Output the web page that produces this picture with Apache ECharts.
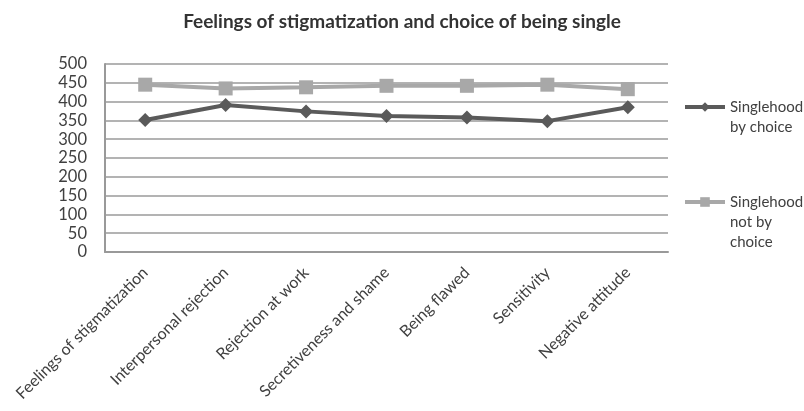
<!DOCTYPE html>
<html>
<head>
<meta charset="utf-8">
<script src="https://cdn.jsdelivr.net/npm/echarts@6/dist/echarts.min.js"></script>
<style>
  html, body { margin: 0; padding: 0; background: #fff; }
  #chart { width: 804px; height: 411px; }
</style>
</head>
<body>
<div id="chart"></div>
<script>
// Stigmatization dimensions on the category axis
const categories = [
  'Feelings of stigmatization',
  'Interpersonal rejection',
  'Rejection at work',
  'Secretiveness and shame',
  'Being flawed',
  'Sensitivity',
  'Negative attitude'
];

// Scores by group
const byChoice = [351, 391, 374, 362, 358, 348, 385];
const notByChoice = [445, 435, 438, 442, 442, 445, 433];

const yTicks = { min: 0, max: 500, interval: 50 };

const FONT = 'Lato';
const TEXT = '#404040';

const chart = echarts.init(document.getElementById('chart'), null, { renderer: 'canvas' });

// Legend labels wrap over several lines; leading blank lines keep the
// marker level with the first line of text.
const legendText = {
  'Singlehood by choice': '\nSinglehood\nby choice',
  'Singlehood not by choice': '\n\nSinglehood\nnot by\nchoice'
};

const legendBase = {
  left: 678,
  itemWidth: 40,
  itemHeight: 12,
  itemGap: 0,
  lineStyle: { width: 4 },
  formatter: (name) => legendText[name],
  textStyle: { fontFamily: FONT, fontSize: 15, color: TEXT, lineHeight: 20 }
};

chart.setOption({
  backgroundColor: '#ffffff',
  animation: false,
  textStyle: { fontFamily: FONT },
  title: {
    text: 'Feelings of stigmatization and choice of being single',
    left: 'center',
    top: 7,
    textStyle: { fontFamily: FONT, fontSize: 19, fontWeight: 'bold', color: '#333333' }
  },
  legend: [
    Object.assign({}, legendBase, { data: ['Singlehood by choice'], top: 72 }),
    Object.assign({}, legendBase, { data: ['Singlehood not by choice'], top: 147 })
  ],
  grid: { left: 105, right: 136, top: 64, bottom: 159, containLabel: false },
  xAxis: {
    type: 'category',
    data: categories,
    boundaryGap: true,
    axisLine: { show: true, lineStyle: { color: '#999999', width: 2 } },
    axisTick: { show: false },
    axisLabel: {
      rotate: 45,
      interval: 0,
      margin: 18,
      fontFamily: FONT,
      fontSize: 16,
      color: TEXT
    }
  },
  yAxis: {
    type: 'value',
    min: yTicks.min,
    max: yTicks.max,
    interval: yTicks.interval,
    axisLine: { show: true, lineStyle: { color: '#999999', width: 2 } },
    axisTick: { show: false },
    splitLine: { show: true, lineStyle: { color: '#9a9a9a', width: 1.5 } },
    axisLabel: { fontFamily: FONT, fontSize: 16.5, color: TEXT, margin: 18 }
  },
  series: [
    {
      name: 'Singlehood not by choice',
      type: 'line',
      data: notByChoice,
      symbol: 'rect',
      symbolSize: 14,
      itemStyle: { color: '#a8a8a8' },
      lineStyle: { color: '#a8a8a8', width: 4 },
      z: 2
    },
    {
      name: 'Singlehood by choice',
      type: 'line',
      data: byChoice,
      symbol: 'diamond',
      symbolSize: 14,
      itemStyle: { color: '#5a5a5a' },
      lineStyle: { color: '#5a5a5a', width: 4 },
      z: 3
    }
  ]
});
</script>
</body>
</html>
